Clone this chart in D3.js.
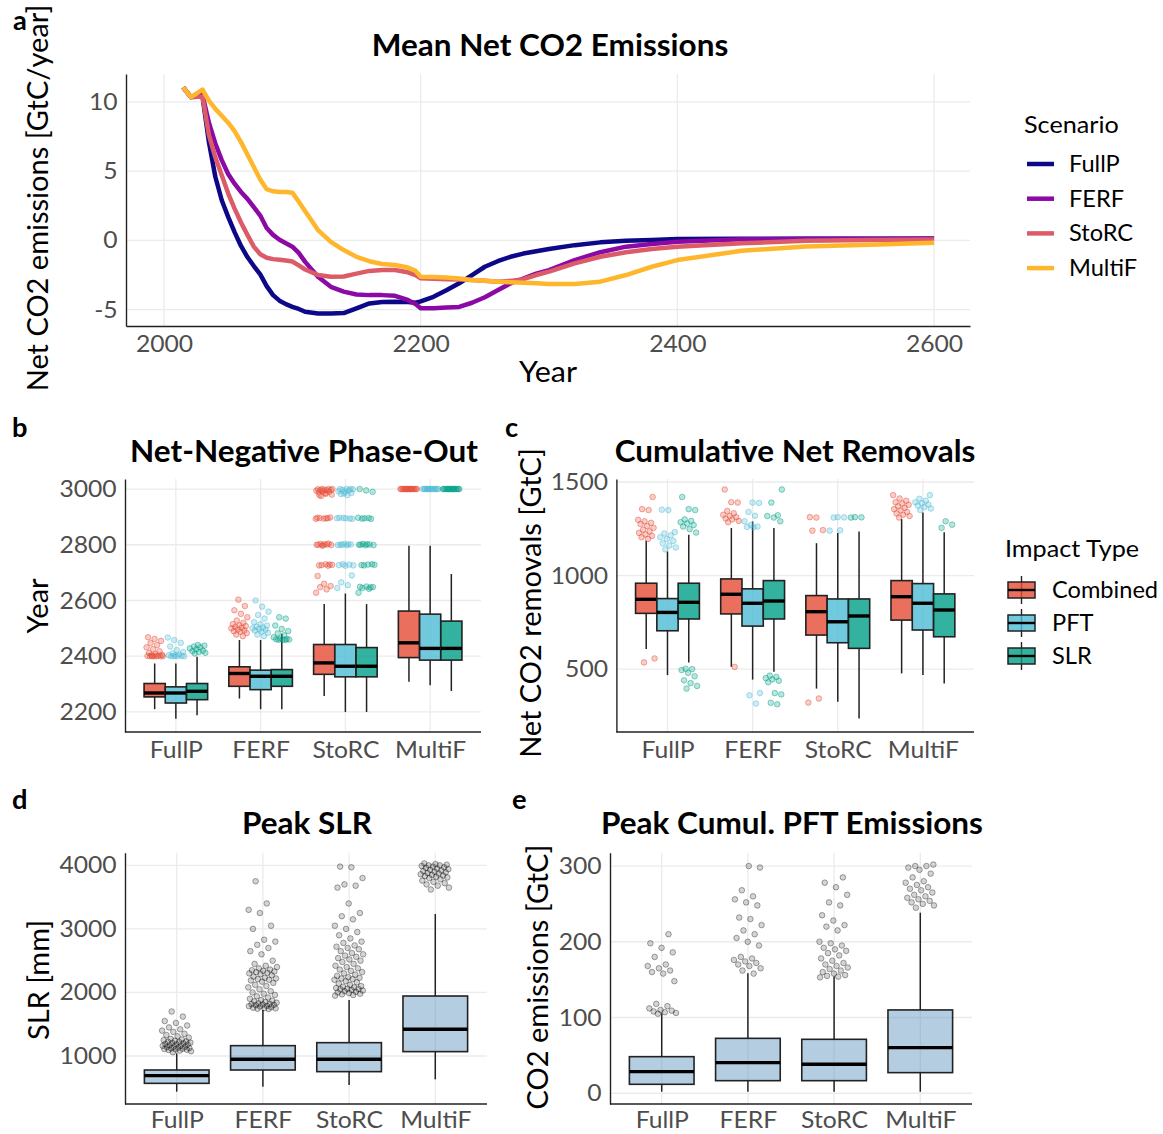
<!DOCTYPE html>
<html><head><meta charset="utf-8">
<script src="https://cdn.jsdelivr.net/npm/d3@7"></script>
<style>
body{margin:0;background:#fff;}
svg text{font-family:Lato, "Open Sans", sans-serif;}
</style></head><body>
<svg id="fig" width="1163" height="1134"></svg>
<script>
// ---------- shared categories ----------
const scenarios = ["FullP", "FERF", "StoRC", "MultiF"];
const impactTypes = ["Combined", "PFT", "SLR"];

// ---------- panel a: mean net CO2 emissions (GtC/year) ----------
const emisYears = [2015,2021,2030,2035,2040,2045,2050,2055,2060,2065,2070,2075,2080,2085,2090,2095,2100,2105,2110,2120,2130,2140,2150,2160,2170,2180,2190,2196,2200,2210,2220,2230,2240,2250,2260,2270,2280,2290,2300,2320,2340,2360,2380,2400,2450,2500,2550,2600];
const emisFullP = [11.05,10.35,10.4,7.1,4.6,2.9,1.7,0.6,-0.4,-1.2,-1.85,-2.45,-3.3,-3.95,-4.35,-4.6,-4.8,-4.95,-5.15,-5.27,-5.27,-5.25,-4.9,-4.55,-4.45,-4.43,-4.45,-4.5,-4.4,-4.07,-3.6,-3.1,-2.5,-1.9,-1.5,-1.18,-0.95,-0.78,-0.62,-0.34,-0.14,-0.03,0.04,0.1,0.12,0.13,0.13,0.13];
const emisFERF = [11.05,10.35,10.5,8.5,7.0,5.8,4.8,4.1,3.5,3.0,2.4,1.8,0.9,0.4,0.05,-0.2,-0.45,-0.9,-1.55,-2.62,-3.35,-3.7,-3.9,-3.95,-3.95,-4.0,-4.3,-4.6,-4.9,-4.9,-4.85,-4.8,-4.5,-4.1,-3.6,-3.1,-2.75,-2.4,-2.15,-1.42,-0.85,-0.45,-0.25,-0.1,0.08,0.12,0.13,0.14];
const emisStoRC = [11.05,10.35,10.4,7.6,6.0,4.7,3.4,2.3,1.3,0.4,-0.45,-1.0,-1.25,-1.35,-1.4,-1.45,-1.52,-1.8,-2.1,-2.5,-2.62,-2.6,-2.4,-2.2,-2.14,-2.14,-2.3,-2.5,-2.74,-2.77,-2.8,-2.83,-2.86,-2.92,-2.98,-2.92,-2.8,-2.5,-2.25,-1.66,-1.18,-0.85,-0.62,-0.46,-0.2,-0.03,0.03,0.07];
const emisMultiF = [11.05,10.35,10.9,10.1,9.5,9.0,8.5,7.9,7.1,6.2,5.3,4.4,3.7,3.55,3.5,3.5,3.45,2.8,2.1,0.75,-0.1,-0.7,-1.18,-1.5,-1.7,-1.78,-1.95,-2.2,-2.62,-2.65,-2.67,-2.75,-2.86,-2.92,-2.98,-3.02,-3.06,-3.1,-3.15,-3.15,-2.98,-2.5,-1.9,-1.42,-0.75,-0.44,-0.32,-0.17];
const scenarioColors = ["#0D0887", "#8B0AA5", "#DB5C68", "#FEB72D"];
const emisYTicks = [-5, 0, 5, 10];
const emisXTicks = [2000, 2200, 2400, 2600];

// ---------- panel b: net-negative phase-out year  [lower, q1, median, q3, upper] ----------
const phaseCombined = [[2210,2254,2268,2302,2374],[2248,2292,2338,2362,2458],[2257,2335,2376,2442,2587],[2308,2395,2448,2562,2796]];
const phasePFT      = [[2176,2232,2268,2290,2374],[2210,2280,2328,2350,2458],[2200,2326,2364,2442,2625],[2296,2386,2428,2551,2796]];
const phaseSLR      = [[2188,2244,2274,2302,2398],[2210,2292,2328,2352,2481],[2200,2326,2364,2431,2587],[2275,2386,2428,2526,2695]];
const phaseCombinedOut = [
  [2400,2400,2400,2400,2400,2400,2401,2402,2403,2405,2408,2412,2418,2425,2432,2440,2447,2455,2462,2468],
  [2472,2478,2483,2488,2490,2493,2496,2500,2502,2505,2508,2511,2515,2520,2528,2540,2552,2565,2580,2603],
  [2628,2640,2648,2652,2660,2688,2725,2727,2728,2730,2726,2729,2798,2800,2801,2803,2799,2802,2800,2804,2797,2893,2895,2896,2898,2894,2897,2895,2975,2980,2985,2988,2990,2992,2994,2995,2996,2997,2998,2999,3000,3000,3000,2983,2978],
  [3000,3000,3000,3000,3000,3000,3000,3000,3000,3000,3000,3000,3000,3000,3000,3000]];
const phasePFTOut = [
  [2400,2400,2400,2400,2401,2402,2404,2406,2410,2415,2422,2435,2448,2458,2467],
  [2472,2478,2484,2488,2492,2495,2498,2500,2503,2506,2510,2515,2522,2535,2548,2560,2578,2600],
  [2645,2655,2665,2690,2725,2727,2729,2730,2726,2798,2800,2801,2803,2799,2802,2800,2893,2895,2897,2894,2896,2895,2978,2982,2986,2990,2992,2995,2997,2999,3000,3000,3000,2984],
  [3000,3000,3000,3000,3000,3000,3000,3000,3000,3000,3000,3000,3000,3000]];
const phaseSLROut = [
  [2410,2412,2415,2418,2420,2425,2428,2432,2435,2438,2440],
  [2458,2459,2460,2460,2461,2462,2464,2468,2475,2482,2490,2498,2510,2535,2540],
  [2628,2642,2645,2648,2650,2649,2647,2726,2728,2729,2727,2730,2798,2800,2801,2803,2799,2802,2800,2893,2895,2897,2896,2894,2990,2995,3000],
  [3000,3000,3000,3000,3000,3000,3000,3000,3000,3000,3000,3000,3000,3000,3000,3000]];
const phaseTicks = [2200, 2400, 2600, 2800, 3000];

// ---------- panel c: cumulative net removals (GtC) ----------
const removalCombined = [[607,798,873,959,1186],[512,795,900,982,1254],[396,682,807,893,1173],[477,762,887,973,1302]];
const removalPFT      = [[468,705,803,877,1129],[444,730,852,929,1289],[325,641,753,875,1227],[468,709,852,957,1337]];
const removalSLR      = [[536,768,857,959,1218],[486,768,864,973,1254],[236,611,784,875,1236],[423,673,816,902,1232]];
const removalCombinedOut = [
  [536,557,1196,1205,1212,1220,1228,1236,1245,1255,1265,1275,1282,1290,1298,1350,1355,1420],
  [512,1285,1292,1300,1305,1312,1318,1325,1333,1345,1390,1392,1460],
  [321,343,1240,1243,1310,1312],
  [1310,1318,1325,1332,1340,1348,1355,1362,1370,1378,1385,1392,1400,1412,1430]];
const removalPFTOut = [
  [1140,1150,1160,1172,1185,1195,1205,1215,1225,1232,1350,1352],
  [316,360,372,1258,1260,1262,1270,1290,1320,1340,1388,1390],
  [1240,1242,1310,1311,1312],
  [1350,1358,1366,1374,1380,1386,1392,1400,1410,1430]];
const removalSLROut = [
  [396,410,425,440,462,480,495,500,502,1230,1248,1262,1270,1278,1285,1292,1300,1350,1355,1420],
  [312,320,365,372,430,438,445,452,458,465,1290,1310,1318,1322,1390,1460],
  [1310,1311,1312],
  [1255,1272,1290]];
const removalTicks = [500, 1000, 1500];

// ---------- panel d: peak sea-level rise (mm) ----------
const slrStats = [[439,570,691,780,1042],[518,780,948,1163,1724],[544,754,948,1210,1881],[633,1069,1420,1944,3234]];
const slrOut = [
  [1060,1075,1085,1095,1100,1105,1110,1115,1120,1125,1130,1140,1145,1150,1160,1165,1170,1180,1185,1190,1200,1205,1210,1220,1225,1230,1240,1250,1260,1270,1290,1310,1330,1350,1380,1400,1420,1450,1480,1520,1550,1620,1700],
  [1740,1745,1750,1755,1760,1770,1780,1785,1790,1800,1805,1810,1815,1820,1830,1840,1850,1860,1870,1880,1900,1920,1940,1960,1980,2000,2020,2050,2080,2100,2120,2150,2170,2190,2200,2210,2220,2230,2250,2270,2290,2300,2310,2320,2330,2340,2350,2360,2380,2400,2420,2450,2500,2600,2650,2700,2750,2800,2830,3000,3050,3250,3300,3400,3750],
  [1950,1960,1970,1980,1990,2000,2010,2020,2030,2040,2050,2055,2060,2070,2080,2090,2100,2120,2140,2160,2180,2200,2210,2220,2230,2240,2260,2280,2300,2320,2340,2360,2380,2400,2420,2450,2480,2500,2520,2540,2560,2580,2600,2620,2650,2680,2700,2720,2740,2780,2800,2850,2900,2950,3000,3050,3150,3200,3250,3400,3650,3680,3700,3800,3970,3980],
  [3620,3650,3680,3700,3720,3740,3760,3780,3800,3810,3820,3830,3840,3850,3860,3870,3880,3890,3900,3910,3920,3930,3940,3950,3960,3970,3980,3990,4000,4000,4010,4020,4030]];
const slrTicks = [1000, 2000, 3000, 4000];

// ---------- panel e: peak cumulative PFT emissions (GtC) ----------
const pftStats = [[2,11.8,28.5,48.3,105.5],[2,16.6,40.4,72.5,158.3],[2,16.6,38.2,71.2,154],[2,27.2,60.2,110,238.4]];
const pftOut = [
  [105,106,107,108,109,110,112,115,118,148,158,160,162,165,168,170,180,186,192,198,210],
  [158,162,165,168,170,172,174,176,178,180,195,200,205,210,215,222,230,232,248,252,256,260,268,298,300],
  [153,154,155,156,158,160,162,164,166,168,170,172,175,178,182,185,188,190,192,195,198,200,215,220,222,228,235,248,252,262,272,278,285],
  [245,248,250,252,254,256,258,260,262,265,268,270,272,275,278,280,285,290,295,298,300,300,302]];
const pftTicks = [0, 100, 200, 300];

const impactFills = ["#E64B35", "#4DBBD5", "#00A087"];

// ---------- drawing ----------
const svg = d3.select("#fig");
const GRID = "#EBEBEB", AXIS = "#222", TICK = "#4D4D4D";
const SX = 1.05;          // glyph width factor used for all horizontal text
const TICK_SIZE = 23.5;

function label(x, y, txt, size, opts = {}) {
  const t = svg.append("text").attr("x", 0).attr("y", 0).text(txt)
    .attr("font-size", size).attr("fill", opts.fill || "#000")
    .attr("font-weight", opts.bold ? 700 : 400)
    .attr("text-anchor", opts.anchor || "start");
  t.attr("transform", opts.rotate
    ? `translate(${x},${y}) rotate(-90)`
    : `translate(${x},${y}) scale(${SX},1)`);
  return t;
}

function styleAxis(g) {
  g.select(".domain").attr("stroke", AXIS).attr("stroke-width", 1.4);
  g.selectAll(".tick line").remove();
  g.selectAll(".tick text").attr("font-size", TICK_SIZE).attr("fill", TICK)
    .attr("font-family", "Lato, sans-serif")
    .attr("transform", `scale(${SX},1)`);
}

// deterministic horizontal spread for overlapping points
const spread = i => ((i * 0.6180339887 + 0.37) % 1) - 0.5;
const plain = d => String(d);

// ----- panel a -----
(function () {
  const x = d3.scaleLinear().domain([1970.4, 2628]).range([126, 970]);
  const y = d3.scaleLinear().domain([-6.18, 12.02]).range([326, 74]);
  const g = svg.append("g");
  g.selectAll(".gy").data(emisYTicks).join("line")
    .attr("x1", 126).attr("x2", 970).attr("y1", d => y(d)).attr("y2", d => y(d))
    .attr("stroke", GRID).attr("stroke-width", 1.3);
  g.selectAll(".gx").data(emisXTicks).join("line")
    .attr("x1", d => x(d)).attr("x2", d => x(d)).attr("y1", 74).attr("y2", 326)
    .attr("stroke", GRID).attr("stroke-width", 1.3);
  const series = [emisFullP, emisFERF, emisStoRC, emisMultiF];
  const line = d3.line().x((d, i) => x(emisYears[i])).y(d => y(d));
  series.forEach((s, k) => {
    g.append("path").attr("d", line(s)).attr("fill", "none")
      .attr("stroke", scenarioColors[k]).attr("stroke-width", 4.5)
      .attr("stroke-linejoin", "round").attr("stroke-linecap", "butt");
  });
  const ax = g.append("g").attr("transform", "translate(126,0)")
    .call(d3.axisLeft(y).tickValues(emisYTicks).tickFormat(plain).tickSize(0).tickSizeOuter(0).tickPadding(8));
  styleAxis(ax);
  const bx = g.append("g").attr("transform", "translate(0,326)")
    .call(d3.axisBottom(x).tickValues(emisXTicks).tickFormat(plain).tickSize(0).tickSizeOuter(0).tickPadding(9));
  styleAxis(bx);

  label(13, 30, "a", 26, { bold: true });
  label(550, 56, "Mean Net CO2 Emissions", 30, { bold: true, anchor: "middle" });
  label(548, 382, "Year", 29, { anchor: "middle" });
  label(48, 198, "Net CO2 emissions [GtC/year]", 29, { anchor: "middle", rotate: true });

  // legend
  label(1024, 133, "Scenario", 24);
  scenarios.forEach((s, k) => {
    const cy = 164 + k * 34.7;
    svg.append("line").attr("x1", 1027).attr("x2", 1054).attr("y1", cy).attr("y2", cy)
      .attr("stroke", scenarioColors[k]).attr("stroke-width", 4.5);
    label(1069, cy + 8, s, 22.5);
  });
})();

// ----- box panels -----
function boxPanel(p) {
  const x = d3.scalePoint().domain(scenarios).range([p.left, p.right]).padding(0.6);
  const y = d3.scaleLinear().domain(p.yDomain).range([p.bottom, p.top]);
  const step = x.step();
  const g = svg.append("g");
  g.selectAll(".gy").data(p.yTicks).join("line")
    .attr("x1", p.left).attr("x2", p.right).attr("y1", d => y(d)).attr("y2", d => y(d))
    .attr("stroke", GRID).attr("stroke-width", 1.3);
  g.selectAll(".gx").data(scenarios).join("line")
    .attr("x1", d => x(d)).attr("x2", d => x(d)).attr("y1", p.top).attr("y2", p.bottom)
    .attr("stroke", GRID).attr("stroke-width", 1.3);

  p.groups.forEach(grp => {
    const bw = grp.width * step;
    scenarios.forEach((s, i) => {
      const [lo, q1, med, q3, hi] = grp.stats[i];
      const cx = x(s) + grp.offset * step;
      g.append("line").attr("x1", cx).attr("x2", cx).attr("y1", y(hi)).attr("y2", y(q3))
        .attr("stroke", "#222").attr("stroke-width", 1.5);
      g.append("line").attr("x1", cx).attr("x2", cx).attr("y1", y(q1)).attr("y2", y(lo))
        .attr("stroke", "#222").attr("stroke-width", 1.5);
      g.append("rect").attr("x", cx - bw / 2).attr("width", bw)
        .attr("y", y(q3)).attr("height", y(q1) - y(q3))
        .attr("fill", grp.fill).attr("fill-opacity", grp.fillOpacity)
        .attr("stroke", "#222").attr("stroke-width", 1.6);
      g.append("line").attr("x1", cx - bw / 2).attr("x2", cx + bw / 2)
        .attr("y1", y(med)).attr("y2", y(med))
        .attr("stroke", "#000").attr("stroke-width", 3.4);
    });
  });
  p.groups.forEach(grp => {
    scenarios.forEach((s, i) => {
      const cx = x(s) + grp.offset * step;
      g.selectAll(null).data(grp.out[i]).join("circle")
        .attr("cx", (d, j) => cx + spread(j + i * 7) * 2 * grp.jitter * step)
        .attr("cy", d => y(d)).attr("r", 2.8)
        .attr("fill", grp.pt).attr("fill-opacity", grp.ptFill)
        .attr("stroke", grp.pt).attr("stroke-opacity", grp.ptStroke).attr("stroke-width", 0.9);
    });
  });

  const ax = g.append("g").attr("transform", `translate(${p.left},0)`)
    .call(d3.axisLeft(y).tickValues(p.yTicks).tickFormat(plain).tickSize(0).tickSizeOuter(0).tickPadding(8));
  styleAxis(ax);
  const bx = g.append("g").attr("transform", `translate(0,${p.bottom})`)
    .call(d3.axisBottom(x).tickSize(0).tickSizeOuter(0).tickPadding(p.xPad));
  styleAxis(bx);
  bx.select(".domain").attr("d", `M${p.left},0H${p.right}`);

  label(p.tag[1], p.tag[2], p.tag[0], 26, { bold: true });
  label(p.title[1], p.title[2], p.title[0], 30, { bold: true, anchor: "middle" });
  label(p.ylab[1], p.ylab[2], p.ylab[0], 29, { anchor: "middle", rotate: true });
}

const impactGroups = (stats, outs) => stats.map((st, k) => ({
  stats: st, out: outs[k], fill: impactFills[k], fillOpacity: 0.8,
  offset: (k - 1) * 0.25, width: 0.25, jitter: 0.1,
  pt: impactFills[k], ptFill: 0.28, ptStroke: 0.5
}));

boxPanel({
  left: 125, right: 481, top: 479, bottom: 732, yDomain: [2128, 3036], yTicks: phaseTicks, xPad: 9,
  groups: impactGroups([phaseCombined, phasePFT, phaseSLR], [phaseCombinedOut, phasePFTOut, phaseSLROut]),
  tag: ["b", 12, 437], title: ["Net-Negative Phase-Out", 304, 462], ylab: ["Year", 48, 606]
});
boxPanel({
  left: 616.4, right: 974, top: 479, bottom: 732, yDomain: [164, 1516], yTicks: removalTicks, xPad: 9,
  groups: impactGroups([removalCombined, removalPFT, removalSLR], [removalCombinedOut, removalPFTOut, removalSLROut]),
  tag: ["c", 505, 437], title: ["Cumulative Net Removals", 795, 462], ylab: ["Net CO2 removals [GtC]", 541, 603]
});
const singleGroup = (stats, out) => [{
  stats, out, fill: "#4682B4", fillOpacity: 0.4, offset: 0, width: 0.75, jitter: 0.17,
  pt: "#000", ptFill: 0.17, ptStroke: 0.38
}];
boxPanel({
  left: 125, right: 487, top: 852.7, bottom: 1104, yDomain: [245, 4199], yTicks: slrTicks, xPad: 7,
  groups: singleGroup(slrStats, slrOut),
  tag: ["d", 12, 809], title: ["Peak SLR", 307, 834], ylab: ["SLR [mm]", 49, 980]
});
boxPanel({
  left: 610, right: 972, top: 852.7, bottom: 1104, yDomain: [-14.2, 317.6], yTicks: pftTicks, xPad: 7,
  groups: singleGroup(pftStats, pftOut),
  tag: ["e", 512, 809], title: ["Peak Cumul. PFT Emissions", 792, 834], ylab: ["CO2 emissions [GtC]", 548, 977]
});

// legend for impact type
label(1005, 557, "Impact Type", 24);
impactTypes.forEach((t, k) => {
  const cy = 590 + k * 33;
  const kx = 1021.5;
  svg.append("line").attr("x1", kx).attr("x2", kx).attr("y1", cy - 14).attr("y2", cy + 14)
    .attr("stroke", "#222").attr("stroke-width", 1.4);
  svg.append("rect").attr("x", 1008).attr("y", cy - 8).attr("width", 27).attr("height", 16)
    .attr("fill", impactFills[k]).attr("fill-opacity", 0.8).attr("stroke", "#222").attr("stroke-width", 1.5);
  svg.append("line").attr("x1", 1008).attr("x2", 1035).attr("y1", cy).attr("y2", cy)
    .attr("stroke", "#000").attr("stroke-width", 2.4);
  label(1052, cy + 8, t, 22.5);
});
</script>
</body></html>
